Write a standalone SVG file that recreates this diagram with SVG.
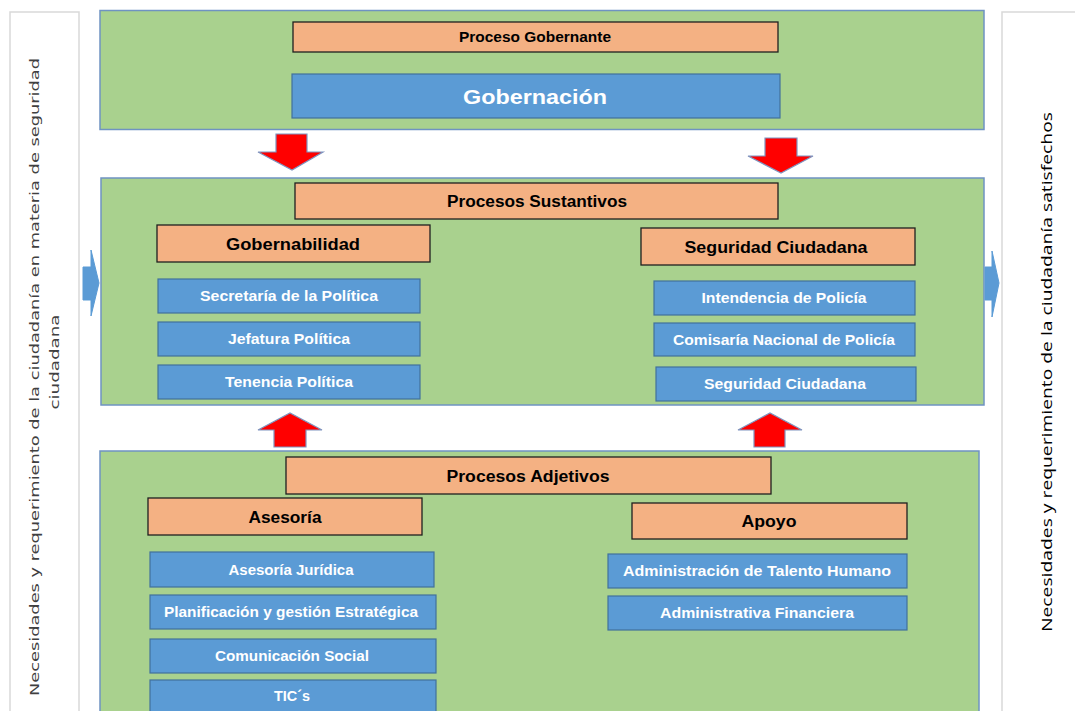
<svg xmlns="http://www.w3.org/2000/svg" width="1075" height="711" viewBox="0 0 1075 711">
<style>
.panel{fill:#A9D18E;stroke:#6F93C2;stroke-width:1.5}
.side{fill:#FFFFFF;stroke:#D9D9D9;stroke-width:1.5}
.org{fill:#F4B183;stroke:#1F1F1F;stroke-width:1.3}
.blu{fill:#5B9BD5;stroke:#41719C;stroke-width:1.2}
.red{fill:#FF0000;stroke:#7F94BF;stroke-width:1.2}
.barr{fill:#5B9BD5;stroke:#5B9BD5;stroke-width:1}
.ot{font-family:"Liberation Sans",Arial,sans-serif;font-weight:bold;fill:#000;text-anchor:middle}
.bt{font-family:"Liberation Sans",Arial,sans-serif;font-weight:bold;fill:#FFFFFF;text-anchor:middle}
.st{font-family:"DejaVu Sans",sans-serif;fill:#404040;text-anchor:middle}
.rt{font-family:"Open Sans","Liberation Sans",sans-serif;fill:#000;text-anchor:middle}
</style>
<rect width="1075" height="711" fill="#FFFFFF"/>

<g id="left-side">
<rect class="side" x="10" y="12" width="69" height="705"/>
<text class="st" font-size="12.5" transform="translate(39,377) rotate(-90)" textLength="638" lengthAdjust="spacingAndGlyphs">Necesidades y requerimiento de la ciudadanía en materia de seguridad</text>
<text class="st" font-size="12.5" transform="translate(59,362) rotate(-90)" textLength="95" lengthAdjust="spacingAndGlyphs">ciudadana</text>
</g>

<g id="right-side">
<rect class="side" x="1002" y="12" width="90" height="705"/>
<text class="rt" font-size="15" transform="translate(1052,372) rotate(-90)" textLength="520" lengthAdjust="spacingAndGlyphs">Necesidades y requerimiento de la ciudadanía satisfechos</text>
</g>

<g id="gobernante">
<rect class="panel" x="100" y="10.5" width="884" height="119"/>
<rect class="org" x="293" y="22" width="485" height="30"/>
<text class="ot" x="535" y="42" font-size="14" textLength="152" lengthAdjust="spacingAndGlyphs">Proceso Gobernante</text>
<rect class="blu" x="292" y="74" width="488" height="44"/>
<text class="bt" x="535" y="103.5" font-size="20" textLength="144" lengthAdjust="spacingAndGlyphs">Gobernación</text>
</g>

<g id="sustantivos">
<rect class="panel" x="101" y="178" width="883" height="227"/>
<rect class="org" x="295" y="183" width="483" height="36"/>
<text class="ot" x="537" y="207" font-size="16" textLength="180" lengthAdjust="spacingAndGlyphs">Procesos Sustantivos</text>
<rect class="org" x="157" y="225" width="273" height="37"/>
<text class="ot" x="293" y="249.5" font-size="16" textLength="134" lengthAdjust="spacingAndGlyphs">Gobernabilidad</text>
<rect class="org" x="641" y="228" width="274" height="37"/>
<text class="ot" x="776" y="252.5" font-size="16" textLength="183" lengthAdjust="spacingAndGlyphs">Seguridad Ciudadana</text>
<rect class="blu" x="158" y="279" width="262" height="34"/>
<text class="bt" x="289" y="301" font-size="14" textLength="178" lengthAdjust="spacingAndGlyphs">Secretaría de la Política</text>
<rect class="blu" x="158" y="322" width="262" height="34"/>
<text class="bt" x="289" y="344" font-size="14" textLength="122" lengthAdjust="spacingAndGlyphs">Jefatura Política</text>
<rect class="blu" x="158" y="365" width="262" height="34"/>
<text class="bt" x="289" y="387" font-size="14" textLength="128" lengthAdjust="spacingAndGlyphs">Tenencia Política</text>
<rect class="blu" x="654" y="281" width="261" height="34"/>
<text class="bt" x="784" y="303" font-size="14" textLength="165" lengthAdjust="spacingAndGlyphs">Intendencia de Policía</text>
<rect class="blu" x="654" y="323" width="261" height="33"/>
<text class="bt" x="784" y="344.5" font-size="14" textLength="222" lengthAdjust="spacingAndGlyphs">Comisaría Nacional de Policía</text>
<rect class="blu" x="656" y="367" width="260" height="34"/>
<text class="bt" x="785" y="389" font-size="14" textLength="162" lengthAdjust="spacingAndGlyphs">Seguridad Ciudadana</text>
</g>

<g id="adjetivos">
<rect class="panel" x="100" y="451" width="879" height="270"/>
<rect class="org" x="286" y="457" width="485" height="37"/>
<text class="ot" x="528" y="481.5" font-size="16" textLength="163" lengthAdjust="spacingAndGlyphs">Procesos Adjetivos</text>
<rect class="org" x="148" y="498" width="274" height="37"/>
<text class="ot" x="285" y="522.5" font-size="16" textLength="73" lengthAdjust="spacingAndGlyphs">Asesoría</text>
<rect class="org" x="632" y="503" width="275" height="36"/>
<text class="ot" x="769" y="527" font-size="16" textLength="55" lengthAdjust="spacingAndGlyphs">Apoyo</text>
<rect class="blu" x="150" y="552" width="284" height="35"/>
<text class="bt" x="291" y="574.5" font-size="14" textLength="125" lengthAdjust="spacingAndGlyphs">Asesoría Jurídica</text>
<rect class="blu" x="150" y="595" width="286" height="34"/>
<text class="bt" x="291" y="617" font-size="14" textLength="254" lengthAdjust="spacingAndGlyphs">Planificación y gestión Estratégica</text>
<rect class="blu" x="150" y="639" width="286" height="34"/>
<text class="bt" x="292" y="661" font-size="14" textLength="154" lengthAdjust="spacingAndGlyphs">Comunicación Social</text>
<rect class="blu" x="150" y="680" width="286" height="40"/>
<text class="bt" x="292" y="701" font-size="15" textLength="36" lengthAdjust="spacingAndGlyphs">TIC´s</text>
<rect class="blu" x="608" y="554" width="299" height="34"/>
<text class="bt" x="757" y="576" font-size="14" textLength="268" lengthAdjust="spacingAndGlyphs">Administración de Talento Humano</text>
<rect class="blu" x="608" y="596" width="299" height="34"/>
<text class="bt" x="757" y="618" font-size="14" textLength="194" lengthAdjust="spacingAndGlyphs">Administrativa Financiera</text>
</g>

<g id="connectors">
<polygon class="red" points="276,134 307,134 307,152 323,152 292,170 258,152 276,152"/>
<polygon class="red" points="765,138 797,138 797,156 813,156 781,173 748,156 765,156"/>
<polygon class="red" points="274,447 306,447 306,430 322,430 290,413 258,430 274,430"/>
<polygon class="red" points="754,447 785,447 785,430 802,430 770,413 738,430 754,430"/>
<polygon class="barr" points="83,267 91,267 91,250 99,283 91,316 91,300 83,300"/>
<polygon class="barr" points="985,267 992,267 992,251 999,283 992,317 992,300 985,300"/>
</g>
</svg>
